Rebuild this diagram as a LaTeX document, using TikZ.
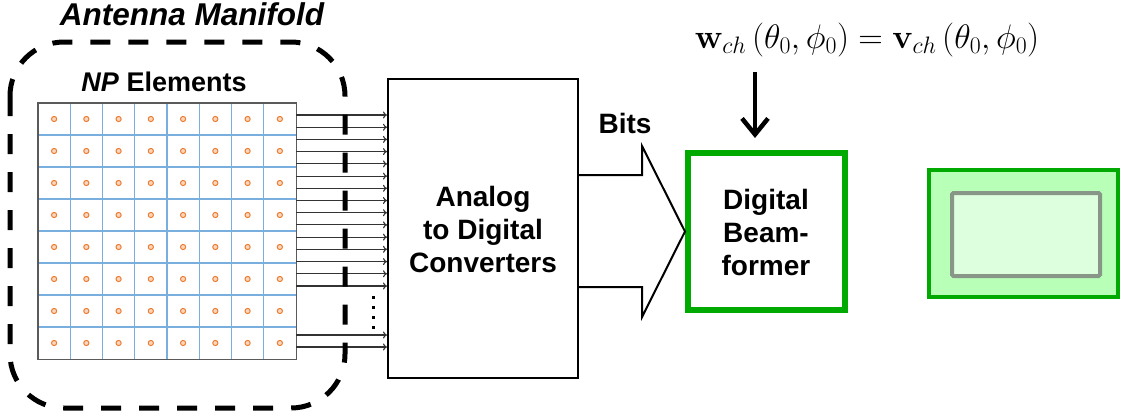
\RequirePackage{fix-cm}
\documentclass[tikz,border=0pt]{standalone}
\usepackage[no-math]{fontspec}
\setmainfont{Liberation Sans}
\usetikzlibrary{arrows.meta,calc}
\definecolor{gridblue}{RGB}{120,175,222}
\definecolor{gridedge}{RGB}{90,90,90}
\definecolor{dotorange}{RGB}{237,125,49}
\definecolor{dotfill}{RGB}{250,215,190}
\definecolor{bfgreen}{RGB}{0,170,0}
\definecolor{lightgreen}{RGB}{184,255,184}
\definecolor{palegreen}{RGB}{221,255,221}
\definecolor{grayedge}{RGB}{136,150,136}
\tikzset{
  bigtext/.style={font=\fontsize{28}{33}\selectfont\bfseries, align=center, inner sep=0pt},
  feedline/.style={draw=black!80, line width=1.1pt, -{To[length=4pt,width=7pt]}},
  adcbox/.style={draw=black, line width=2pt, minimum width=190, minimum height=299, inner sep=0pt},
  bfbox/.style={draw=bfgreen, line width=6pt, fill=white, minimum width=157, minimum height=157, inner sep=0pt},
  manifold/.style={draw=black, line width=5pt, dash pattern=on 20pt off 18pt, rounded corners=54pt},
}
\begin{document}
\begin{tikzpicture}[x=1pt,y=-1pt]
\useasboundingbox (0,0) rectangle (1123,416);

% antenna grid
\node[draw=none, minimum width=258, minimum height=256, inner sep=0pt, anchor=north west] (grid) at (38,103) {};
\foreach \i in {1,...,7} {
  \draw[gridblue, line width=1.3pt] ($(grid.north west)+(\i*32.25,0)$) -- ($(grid.south west)+(\i*32.25,0)$);
  \draw[gridblue, line width=1.3pt] ($(grid.north west)+(0,\i*32)$) -- ($(grid.north east)+(0,\i*32)$);
}
\foreach \i in {0,...,7} \foreach \j in {0,...,7} {
  \draw[dotorange, fill=dotfill, line width=1pt] ($(grid.north west)+(16.1+\i*32.25,16+\j*32)$) circle (2.6pt);
}
\draw[gridedge, line width=1.5pt] (grid.north west) rectangle (grid.south east);

% ADC
\node[adcbox] (adc) at (483,228.5) {};
\node[bigtext] (adctext) at (483,229) {Analog\\to Digital\\Converters};

% feed lines
\foreach \yy [count=\k] in {115,127.2,139.4,151.6,163.9,176.1,188.3,200.5,212.7,224.9,237.1,249.3,261.6,273.8,286,335,347} {
  \coordinate (lv\k) at (0,\yy);
  \draw[feedline] (grid.east |- lv\k) -- (adc.west |- lv\k);
}
\foreach \yy [count=\k] in {297,307,317,327} {
  \fill[black] (371.5,\yy-1.5) rectangle ++(3,3);
}

% manifold outline
\draw[manifold] (10,42) rectangle (345,408);
\node[font=\fontsize{31.5}{36}\selectfont\bfseries\itshape, inner sep=0pt, anchor=base] (mantitle) at (192,25) {Antenna Manifold};
\node[font=\fontsize{27}{32}\selectfont\bfseries, inner sep=0pt, anchor=base] (nptitle) at (164,91) {\textit{NP} Elements};

% digital beamformer
\node[bfbox] (dbf) at (766.5,231.5) {};
\node[bigtext] (dbftext) at (766,232) {Digital\\Beam-\\former};

% big hollow arrow
\coordinate (hb) at (642,0);
\draw[black, line width=2pt, line join=miter] (adc.east |- {(0,175)}) -- (hb |- {(0,175)}) -- (hb |- {(0,146)}) -- (dbf.west) -- (hb |- {(0,317)}) -- (hb |- {(0,287)}) -- (adc.east |- {(0,287)});
\node[font=\fontsize{28}{33}\selectfont\bfseries, inner sep=0pt, anchor=base] (bits) at (625,133) {Bits};

% formula and arrow
\node[inner sep=0pt, font=\fontsize{34}{40}\selectfont] (formula) at (867,40) {$\mathbf{w}_{ch}\left(\theta_0,\phi_0\right)=\mathbf{v}_{ch}\left(\theta_0,\phi_0\right)$};
\coordinate (atop) at (755,72);
\coordinate (abot) at (755,138);
\draw[black, line width=4.5pt, -{Straight Barb[length=16pt,width=26pt]}] (atop) -- (abot);

% right boxes
\node[draw=bfgreen, fill=lightgreen, line width=4pt, minimum width=189, minimum height=127, inner sep=0pt] (outerbox) at (1023.5,233.5) {};
\node[draw=grayedge, fill=palegreen, line width=4pt, rounded corners=1.5pt, minimum width=148, minimum height=83, inner sep=0pt] (innerbox) at (1026,234.5) {};
\end{tikzpicture}
\end{document}
